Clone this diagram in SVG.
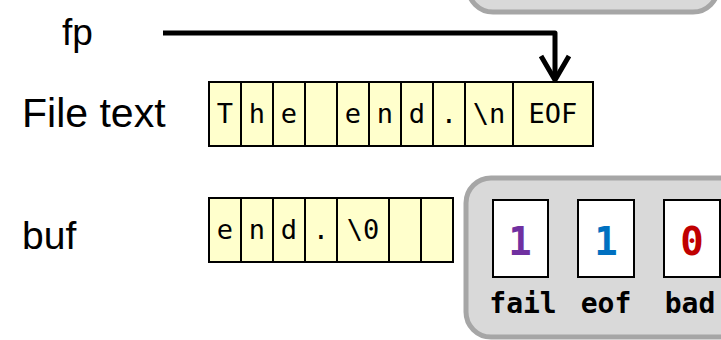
<svg xmlns="http://www.w3.org/2000/svg" width="721" height="340" viewBox="0 0 721 340">
<style>
.lbl{font-family:"Liberation Sans",Arial,sans-serif;fill:#000}
.cell{fill:#ffffcc;stroke:#000;stroke-width:2}
.ch{font-family:"DejaVu Sans Mono","Liberation Mono",monospace;font-size:27px;fill:#000;text-anchor:middle}
.panel{fill:#d9d9d9;stroke:#a6a6a6;stroke-width:5}
.flag{fill:#fff;stroke:#000;stroke-width:2}
.num{font-family:"DejaVu Sans Mono","Liberation Mono",monospace;font-size:39px;font-weight:bold;text-anchor:middle}
.fl{font-family:"DejaVu Sans Mono","Liberation Mono",monospace;font-size:28px;font-weight:bold;fill:#000;text-anchor:middle}
.conn{fill:none;stroke:#000;stroke-width:5;stroke-linejoin:round}
</style>
<g id="top-panel"><rect class="panel" x="468" y="-100" width="250" height="112" rx="25"/></g>
<g id="fp-label"><text class="lbl" x="62" y="45" font-size="37">fp</text></g>
<g id="file-label"><text class="lbl" x="22" y="127" font-size="41">File text</text></g>
<g id="buf-label"><text class="lbl" x="22" y="249" font-size="39">buf</text></g>
<g id="file-text">
<rect class="cell" x="209" y="82" width="32" height="64"/>
<rect class="cell" x="241" y="82" width="32" height="64"/>
<rect class="cell" x="273" y="82" width="32" height="64"/>
<rect class="cell" x="305" y="82" width="32" height="64"/>
<rect class="cell" x="337" y="82" width="32" height="64"/>
<rect class="cell" x="369" y="82" width="32" height="64"/>
<rect class="cell" x="401" y="82" width="32" height="64"/>
<rect class="cell" x="433" y="82" width="32" height="64"/>
<rect class="cell" x="465" y="82" width="48" height="64"/>
<rect class="cell" x="513" y="82" width="80" height="64"/>
<text class="ch" x="225" y="123">T</text>
<text class="ch" x="257" y="123">h</text>
<text class="ch" x="289" y="123">e</text>
<text class="ch" x="353" y="123">e</text>
<text class="ch" x="385" y="123">n</text>
<text class="ch" x="417" y="123">d</text>
<text class="ch" x="449" y="123">.</text>
<text class="ch" x="489" y="123">\n</text>
<text class="ch" x="553" y="123">EOF</text>
</g>
<g id="buf">
<rect class="cell" x="209" y="198" width="32" height="64"/>
<rect class="cell" x="241" y="198" width="32" height="64"/>
<rect class="cell" x="273" y="198" width="32" height="64"/>
<rect class="cell" x="305" y="198" width="32" height="64"/>
<rect class="cell" x="337" y="198" width="52" height="64"/>
<rect class="cell" x="389" y="198" width="32" height="64"/>
<rect class="cell" x="421" y="198" width="32" height="64"/>
<text class="ch" x="225" y="239">e</text>
<text class="ch" x="257" y="239">n</text>
<text class="ch" x="289" y="239">d</text>
<text class="ch" x="321" y="239">.</text>
<text class="ch" x="363" y="239">\0</text>
</g>
<g id="status">
<rect class="panel" x="466" y="178" width="280" height="159" rx="25"/>
<rect class="flag" x="493" y="200" width="55" height="77"/>
<rect class="flag" x="578" y="200" width="56" height="77"/>
<rect class="flag" x="664" y="200" width="56" height="77"/>
<text class="num" x="520" y="255" fill="#7030a0">1</text>
<text class="num" x="606" y="255" fill="#0070c0">1</text>
<text class="num" x="692" y="255" fill="#c00000">0</text>
<text class="fl" x="523" y="313">fail</text>
<text class="fl" x="606" y="313">eof</text>
<text class="fl" x="690" y="313">bad</text>
</g>
<g id="connectors">
<path class="conn" d="M163,33 H555 V79"/>
<polyline class="conn" points="541,56 555,80 569,56"/>
</g>
</svg>
